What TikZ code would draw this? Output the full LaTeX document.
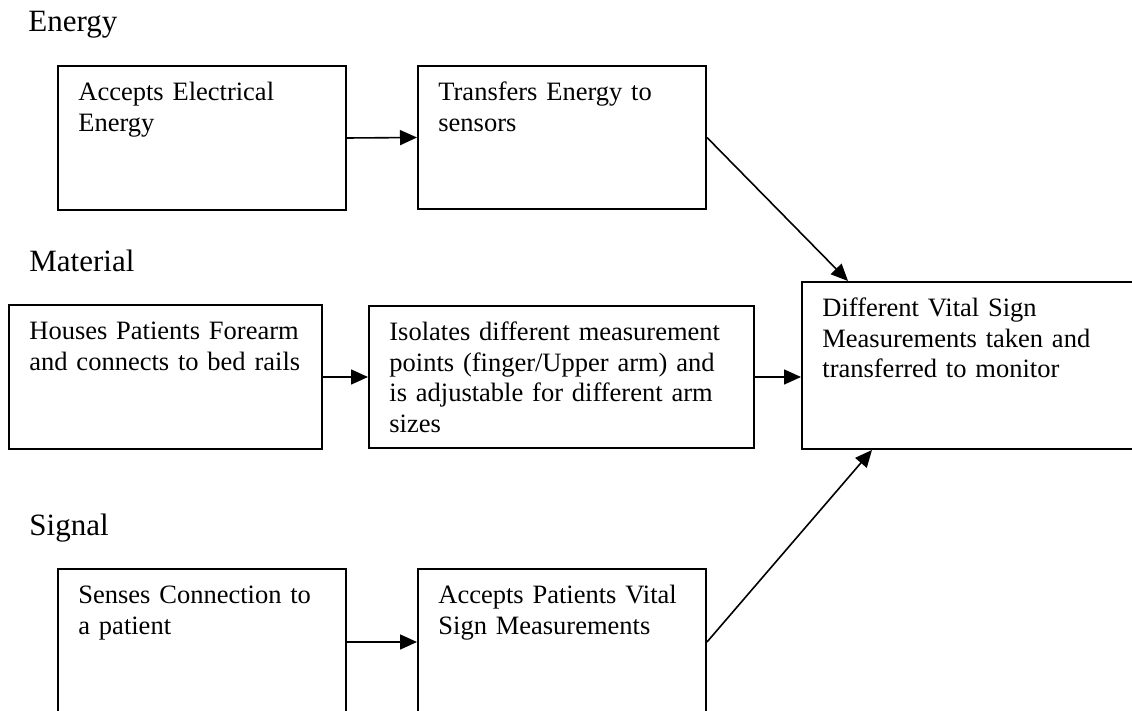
\documentclass[tikz,border=0pt]{standalone}
\usepackage{fontspec}
\setmainfont{Liberation Serif}
\usetikzlibrary{positioning,arrows.meta}
\newcommand{\boxfont}{\fontsize{13.25pt}{15.25pt}\selectfont}
\newcommand{\rowfont}{\fontsize{15.5pt}{18pt}\selectfont}
\tikzset{
  funcbox/.style={draw, line width=1pt, rectangle, anchor=north west, inner sep=0pt},
  boxtext/.style={label={[anchor=base west, inner sep=0pt, xshift=10.5pt, yshift=-18pt,
      text width=190pt, align=left, font=\boxfont]north west:#1}},
  rowlabel/.style={anchor=base west, inner sep=0pt, font=\rowfont},
  flow/.style={-{Triangle[length=8.5pt,width=7.5pt]}, line width=0.8pt}
}

\begin{document}
\begin{tikzpicture}[x=0.5pt,y=-0.5pt]
\useasboundingbox (0,0) rectangle (1132,711);
%the row titles
\node [rowlabel] (energy) at (28,32) {Energy};
\node [rowlabel] (material) at (29,272) {Material};
\node [rowlabel] (signal) at (29,536) {Signal};
%the function boxes
\node [funcbox, minimum width=144pt, minimum height=72pt,
  boxtext={Accepts Electrical\\Energy}] (accepts) at (57,65) {};
\node [funcbox, minimum width=144pt, minimum height=71.5pt,
  boxtext={Transfers Energy to\\sensors}] (transfers) at (417,65) {};
\node [funcbox, minimum width=156.5pt, minimum height=72pt,
  boxtext={Houses Patients Forearm\\and connects to bed rails}] (houses) at (8,304) {};
\node [funcbox, minimum width=192.5pt, minimum height=71pt,
  boxtext={Isolates different measurement\\points (finger/Upper arm) and\\is adjustable for different arm\\sizes}] (isolates) at (368,305) {};
\node [funcbox, minimum width=172.5pt, minimum height=83.5pt,
  boxtext={Different Vital Sign\\Measurements taken and\\transferred to monitor}] (vital) at (801,281) {};
\node [funcbox, minimum width=144pt, minimum height=73pt,
  boxtext={Senses Connection to\\a patient}] (senses) at (57,568) {};
\node [funcbox, minimum width=144pt, minimum height=73pt,
  boxtext={Accepts Patients Vital\\Sign Measurements}] (acceptsvital) at (417,568) {};
%the connectors
\draw[flow] (accepts.east) -- (transfers.west);
\draw[flow] (transfers.east) -- ([xshift=23.5pt]vital.north west);
\draw[flow] (houses.east) -- (isolates.west);
\draw[flow] (isolates.east) -- (isolates.east -| vital.west);
\draw[flow] (senses.east) -- (acceptsvital.west);
\draw[flow] (acceptsvital.east) -- ([xshift=35.5pt]vital.south west);
\end{tikzpicture}
\end{document}
